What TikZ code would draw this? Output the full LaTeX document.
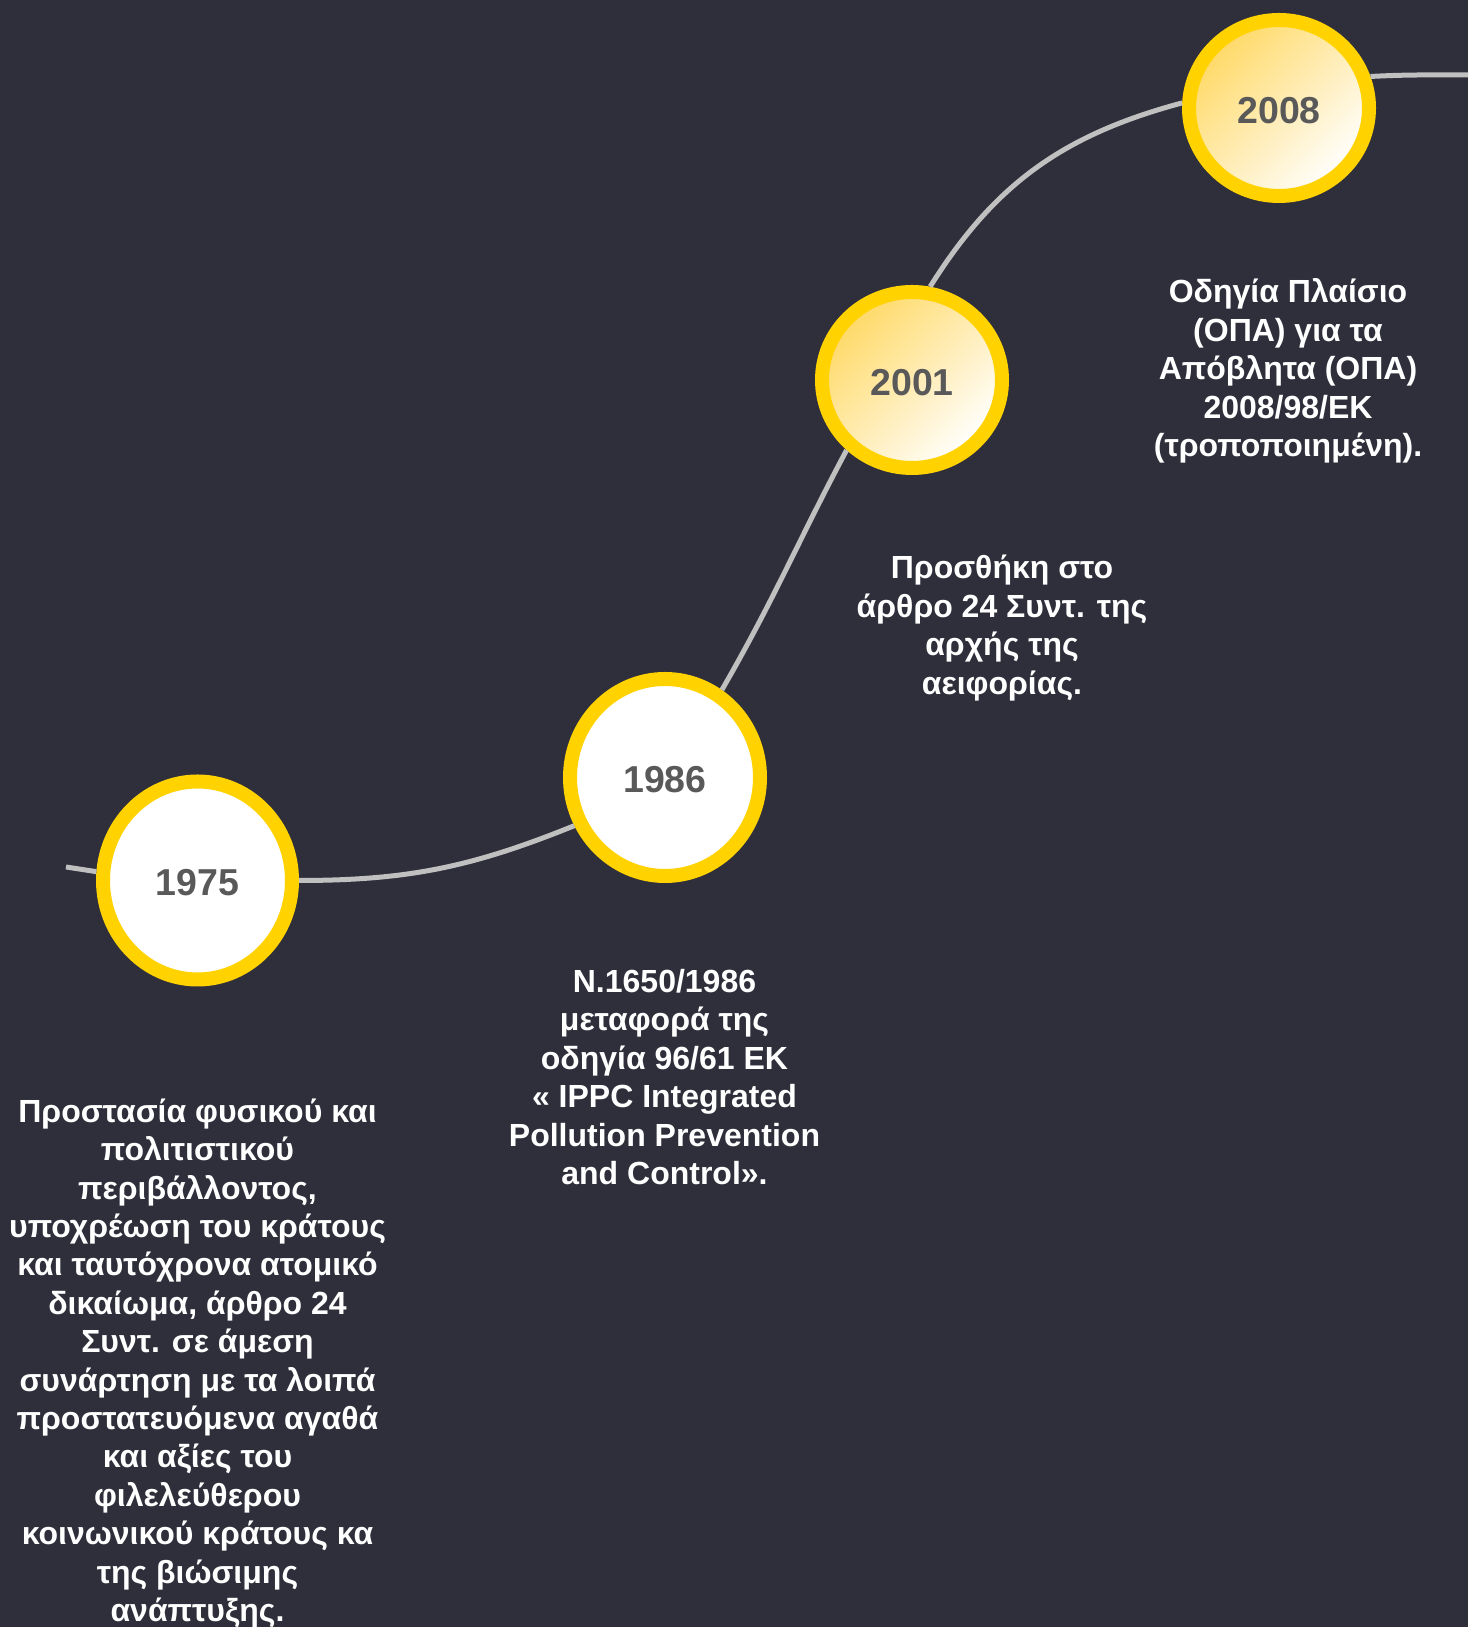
\documentclass[tikz,border=0pt]{standalone}
\usepackage{fontspec}
\setmainfont{Liberation Sans}
\usetikzlibrary{shapes.geometric}
\definecolor{bgcol}{HTML}{2E2F3A}
\definecolor{ringcol}{HTML}{FFD200}
\definecolor{linecol}{HTML}{C0C0C0}
\definecolor{yeartext}{HTML}{595959}
\definecolor{goldfill}{HTML}{FFD966}
\newcommand{\yr}[1]{\raisebox{-2.5pt}[\height][\depth]{#1}}
\tikzset{
  yearcirc/.style={ellipse, draw=ringcol, line width=14pt, inner sep=0pt,
    font=\fontsize{37.5}{44}\selectfont\bfseries, text=yeartext},
  plainfill/.style={fill=white},
  gradfill/.style={top color=goldfill, bottom color=white, shading angle=45},
  desc/.style={align=center, text=white, inner sep=0pt,
    font=\fontsize{32}{38.4}\selectfont\bfseries},
  timeline/.style={draw=linecol, line width=5pt}
}
\begin{document}
\begin{tikzpicture}
\fill[bgcol] (0,0) rectangle (1468pt,1627pt);
\useasboundingbox (0,0) rectangle (1468pt,1627pt);
\begin{scope}[x=1pt,y=1pt]
\node[yearcirc, plainfill, minimum width=189pt, minimum height=198pt] (c1975) at (197.5,746.5) {\yr{1975}};
\node[yearcirc, plainfill, minimum width=190pt, minimum height=197pt] (c1986) at (665,849.5) {\yr{1986}};
\node[yearcirc, gradfill, minimum width=180pt, minimum height=176pt] (c2001) at (912,1247) {\yr{2001}};
\node[yearcirc, gradfill, minimum width=180pt, minimum height=176pt] (c2008) at (1279,1519) {\yr{2008}};

\coordinate (lstart) at (66,760);
\coordinate (lend) at (1468,1552);

\draw[timeline] (lstart) -- (c1975.175);
\draw[timeline] (c1975.0) to[out=0, in=202] (c1986.208);
\draw[timeline] (c1986.57) to[out=60, in=242] (c2001.227);
\draw[timeline] (c2001.79) to[out=58, in=195] (c2008.177);
\draw[timeline] (c2008.19) to[out=3, in=180] (lend);

\node[desc] (t1975) at (197.5,263.5) {Προστασία φυσικού και\\πολιτιστικού\\περιβάλλοντος,\\υποχρέωση του κράτους\\και ταυτόχρονα ατομικό\\δικαίωμα, άρθρο 24\\Συντ. σε άμεση\\συνάρτηση με τα λοιπά\\προστατευόμενα αγαθά\\και αξίες του\\φιλελεύθερου\\κοινωνικού κράτους κα\\της βιώσιμης\\ανάπτυξης.};
\node[desc] (t1986) at (664.5,550) {Ν.1650/1986\\μεταφορά της\\οδηγία 96/61 ΕΚ\\« IPPC Integrated\\Pollution Prevention\\and Control».};
\node[desc] (t2001) at (1002,999) {Προσθήκη στο\\άρθρο 24 Συντ. της\\αρχής της\\αειφορίας.};
\node[desc] (t2008) at (1288,1256) {Οδηγία Πλαίσιο\\(ΟΠΑ) για τα\\Απόβλητα (ΟΠΑ)\\2008/98/ΕΚ\\(τροποποιημένη).};
\end{scope}
\end{tikzpicture}
\end{document}
